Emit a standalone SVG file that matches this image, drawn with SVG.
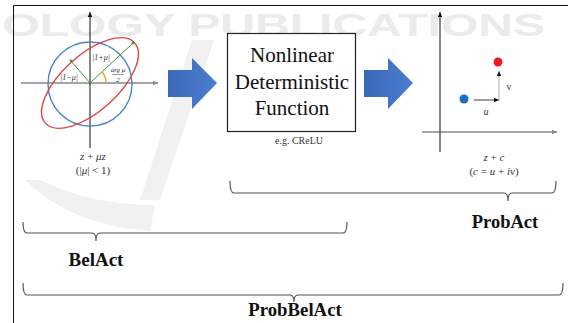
<svg xmlns="http://www.w3.org/2000/svg" width="568" height="323" viewBox="0 0 568 323">
<style>
.brace{fill:none;stroke:#555;stroke-width:1.2}
.ax{stroke:#111;stroke-width:1;fill:none}
.axg{stroke:#888;stroke-width:1.6;fill:none}
.big{fill:url(#bg)}
</style>
<defs>
<linearGradient id="bg" x1="0" y1="0" x2="1" y2="0">
<stop offset="0" stop-color="#3b68b9"/><stop offset="1" stop-color="#4a7ed0"/>
</linearGradient>
<marker id="ah" markerWidth="6" markerHeight="6" refX="5" refY="3" orient="auto" markerUnits="userSpaceOnUse">
<path d="M0,0.8 L5,3 L0,5.2 Z" fill="#111"/>
</marker>
<marker id="ahg" markerWidth="6" markerHeight="6" refX="5" refY="3" orient="auto" markerUnits="userSpaceOnUse">
<path d="M0,0.8 L5,3 L0,5.2 Z" fill="#888"/>
</marker>
<marker id="ahgr" markerWidth="5" markerHeight="5" refX="2.5" refY="2.5" markerUnits="userSpaceOnUse">
<circle cx="2.5" cy="2.5" r="1.4" fill="#3a9a3a"/>
</marker>
</defs>
<rect width="568" height="323" fill="#fff"/>
<g id="watermark">
<text transform="scale(1.55,1)" x="1.5" y="36" font-family="Liberation Sans, Arial, sans-serif" font-weight="bold" font-size="31" fill="#ebebeb">OLOGY PUBLICATIONS</text>
<path d="M192,40 L214,40 L160,200 L140,200 Z" fill="#f1f1f1"/>
<path d="M25,180 Q70,225 150,231 L155,205 Q90,205 40,180 Z" fill="#f1f1f1"/>
</g>
<g id="frame">
<path d="M13.5,323 L13.5,5.5 L568,5.5" fill="none" stroke="#111" stroke-width="1"/>
</g>
<g id="belief-plot" font-family="Liberation Serif, Times New Roman, serif" font-style="italic" fill="#333" text-anchor="middle">
<line class="axg" x1="21" y1="83" x2="158" y2="83" marker-end="url(#ahg)"/>
<line class="ax" x1="90" y1="148" x2="90" y2="12" marker-end="url(#ah)"/>
<circle cx="90" cy="84" r="42" fill="none" stroke="#4a86c5" stroke-width="1.4"/>
<ellipse cx="90" cy="83" rx="60" ry="28" transform="rotate(-42 90 83)" fill="none" stroke="#e04545" stroke-width="1.4"/>
<line x1="90" y1="83" x2="133" y2="43" stroke="#3a9a3a" stroke-width="1" marker-end="url(#ahgr)"/>
<line x1="90" y1="83" x2="71" y2="61" stroke="#3a9a3a" stroke-width="1" marker-end="url(#ahgr)"/>
<path d="M106,83 A16,16 0 0 0 102,72" fill="none" stroke="#f0a030" stroke-width="1.4"/>
<text x="101" y="60" font-size="8">|1+μ|</text>
<text x="69" y="80" font-size="8">|1−μ|</text>
<text x="118" y="72" font-size="7">arg μ</text>
<line x1="112" y1="74.5" x2="124" y2="74.5" stroke="#333" stroke-width="0.5"/>
<text x="118" y="82" font-size="7">2</text>
<text x="93" y="160" font-size="11">z <tspan font-style="normal">+</tspan> μz</text>
<text x="93" y="174" font-size="11"><tspan font-style="normal">(|</tspan>μ<tspan font-style="normal">| &lt; 1)</tspan></text>
</g>
<g id="connectors">
<path class="big" d="M168,70 L192,70 L192,58 L217,83 L192,109 L192,97 L168,97 Z"/>
<path class="big" d="M364,70 L388,70 L388,58 L413,83 L388,109 L388,97 L364,97 Z"/>
</g>
<g id="function-box" font-family="Liberation Serif, Times New Roman, serif" text-anchor="middle" fill="#111">
<rect x="227.5" y="33.5" width="128" height="98" fill="#fff" stroke="#222" stroke-width="1.2"/>
<text x="292" y="62" font-size="21">Nonlinear</text>
<text x="292" y="89" font-size="21">Deterministic</text>
<text x="292" y="115" font-size="21">Function</text>
<text x="299" y="144" font-size="10" fill="#333">e.g. CReLU</text>
</g>
<g id="prob-plot" font-family="Liberation Serif, Times New Roman, serif" font-style="italic" fill="#333" text-anchor="middle">
<line class="axg" x1="422" y1="132" x2="557" y2="132" marker-end="url(#ahg)"/>
<line class="ax" x1="440" y1="152" x2="440" y2="12" marker-end="url(#ah)"/>
<circle cx="464" cy="99" r="4.5" fill="#1a6fc4"/>
<circle cx="498" cy="62" r="4.5" fill="#ee1c1c"/>
<line x1="474" y1="100" x2="499" y2="100" stroke="#111" stroke-width="0.8" marker-end="url(#ah)"/>
<line x1="499" y1="100" x2="499" y2="71" stroke="#aaa" stroke-width="1" marker-end="url(#ah)"/>
<text x="509" y="90" font-size="10" font-style="normal">v</text>
<text x="486" y="115" font-size="10">u</text>
<text x="494" y="161" font-size="11">z <tspan font-style="normal">+</tspan> c</text>
<text x="494" y="175" font-size="11"><tspan font-style="normal">(</tspan>c <tspan font-style="normal">=</tspan> u <tspan font-style="normal">+</tspan> iv<tspan font-style="normal">)</tspan></text>
</g>
<g id="probact" font-family="Liberation Serif, Times New Roman, serif" font-weight="bold" fill="#111" text-anchor="middle">
<path class="brace" d="M230,181 Q230,193 234,193 L504,193 Q508,193 508,201 Q508,193 512,193 L552,193 Q556,193 556,181"/>
<text x="505" y="228" font-size="18.5">ProbAct</text>
</g>
<g id="belact" font-family="Liberation Serif, Times New Roman, serif" font-weight="bold" fill="#111" text-anchor="middle">
<path class="brace" d="M23,222 Q23,233 27,233 L92,233 Q96,233 96,241 Q96,233 100,233 L343,233 Q347,233 347,222"/>
<text x="96" y="266" font-size="19">BelAct</text>
</g>
<g id="probbelact" font-family="Liberation Serif, Times New Roman, serif" font-weight="bold" fill="#111" text-anchor="middle">
<path class="brace" d="M23,283 Q23,295 27,295 L290,295 Q294,295 294,302 Q294,295 298,295 L559,295 Q563,295 563,283"/>
<text x="295" y="316" font-size="18.8">ProbBelAct</text>
</g>
</svg>
